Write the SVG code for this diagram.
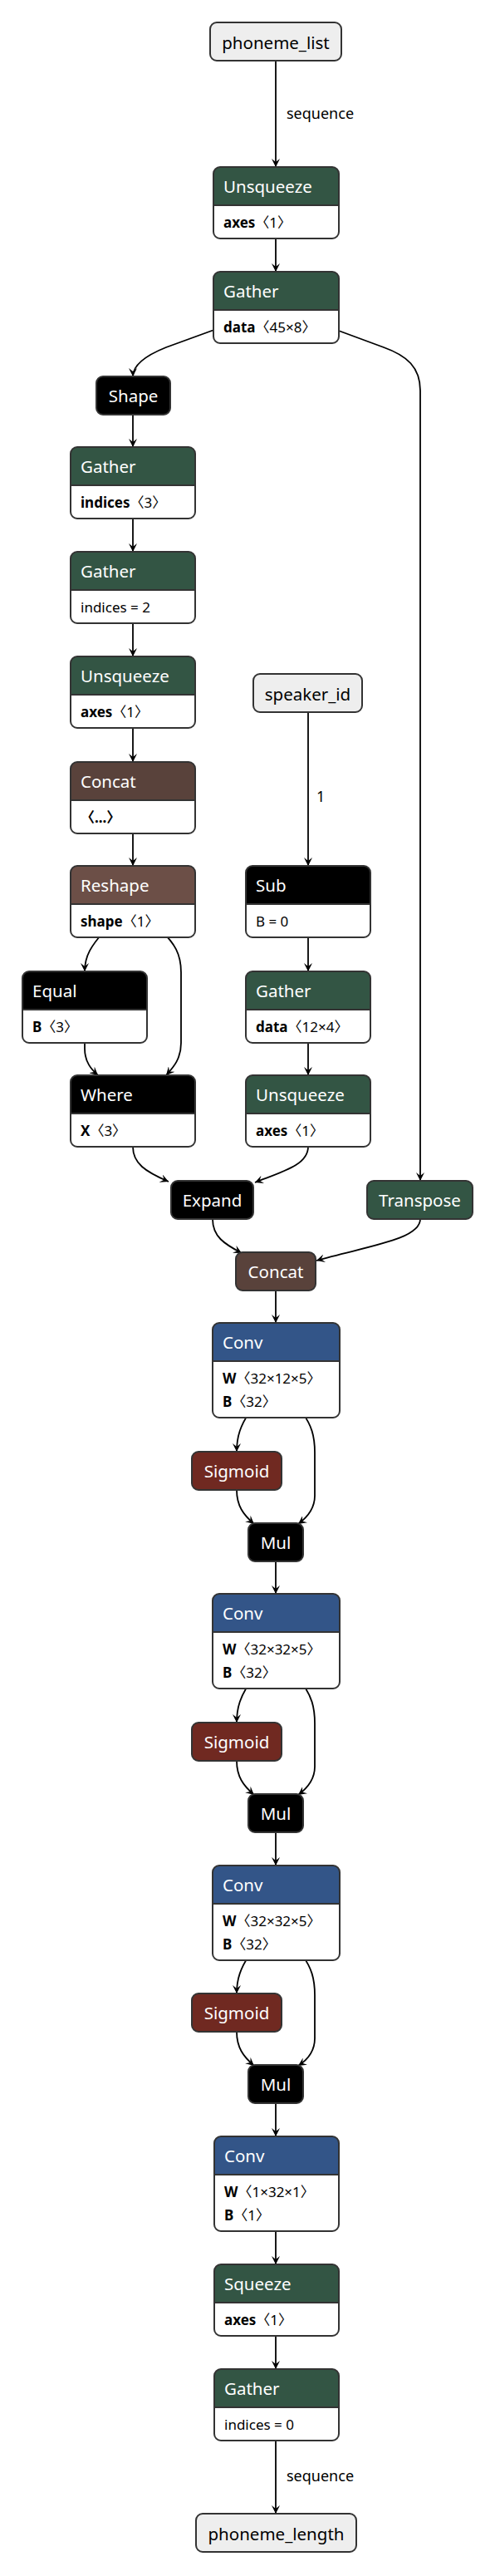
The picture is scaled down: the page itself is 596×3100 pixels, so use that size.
<svg xmlns="http://www.w3.org/2000/svg" width="596" height="3100" viewBox="0 0 596 3100">
<style>
.bx{stroke:#333;stroke-width:2}
.ol{fill:none;stroke:#333;stroke-width:2}
.sep{stroke:#333;stroke-width:2}
.wh{fill:#fff}
.in{fill:#eee}
.blk{fill:#000}
.grn{fill:#335544}
.blu{fill:#335588}
.ten{fill:#59423b}
.shp{fill:#6c4f47}
.act{fill:#702921}
text{font-family:"Noto Sans","Noto Sans CJK SC",sans-serif}
.ht{font-size:20.5px;fill:#fff}
.hc{font-size:20.5px;fill:#fff;text-anchor:middle}
.it{font-size:20.5px;fill:#000;text-anchor:middle}
.at{font-size:17px;fill:#000}
.b{font-weight:bold}
.el{font-size:18px;fill:#000}
.e{fill:none;stroke:#000;stroke-width:1.8;marker-end:url(#arr)}
</style>
<defs>
<marker id="arr" viewBox="0 0 10 10" refX="10" refY="5" markerWidth="10" markerHeight="10" markerUnits="userSpaceOnUse" orient="auto">
<path d="M0,0 L10,5 L0,10 L4,5 Z" fill="#000"/>
</marker>
</defs>
<g id="connectors">
<path class="e" d="M332,73 L332,201"/>
<text class="el" x="345" y="143">sequence</text>
<path class="e" d="M332,287 L332,327"/>
<path class="e" d="M332,370 L200,418 C175,428 160,440 160,453"/>
<path class="e" d="M332,370 L462,418 C490,428 506,442 506,470 L506,1421"/>
<path class="e" d="M160,499 L160,538"/>
<path class="e" d="M160,624 L160,664"/>
<path class="e" d="M160,750 L160,790"/>
<path class="e" d="M160,876 L160,917"/>
<path class="e" d="M160,1003 L160,1042"/>
<path class="e" d="M371,857 L371,1042"/>
<text class="el" x="381" y="965">1</text>
<path class="e" d="M371,1128 L371,1169"/>
<path class="e" d="M371,1255 L371,1294"/>
<path class="e" d="M126,1120 C110,1138 102,1150 102,1169"/>
<path class="e" d="M194,1120 C210,1135 218,1148 218,1170 L218,1255 C218,1275 208,1285 200,1294"/>
<path class="e" d="M102,1255 L102,1262 C102,1278 110,1287 118,1294"/>
<path class="e" d="M160,1380 C160,1400 175,1410 203,1422"/>
<path class="e" d="M371,1380 C371,1402 340,1410 307,1423"/>
<path class="e" d="M256,1467 C256,1488 270,1497 291,1508"/>
<path class="e" d="M506,1467 C506,1492 440,1500 381,1517"/>
<path class="e" d="M332,1553 L332,1592"/>
<path class="e" d="M300,1700 C290,1715 285,1728 285,1747"/>
<path class="e" d="M364,1700 C375,1715 379,1728 379,1748 L379,1800 C379,1816 370,1826 359,1834"/>
<path class="e" d="M285,1793 C285,1812 293,1823 306,1834"/>
<path class="e" d="M332,1879 L332,1918"/>
<path class="e" d="M300,2026 C290,2041 285,2054 285,2073"/>
<path class="e" d="M364,2026 C375,2041 379,2054 379,2074 L379,2126 C379,2142 370,2152 359,2160"/>
<path class="e" d="M285,2119 C285,2138 293,2149 306,2160"/>
<path class="e" d="M332,2205 L332,2245"/>
<path class="e" d="M300,2353 C290,2368 285,2381 285,2399"/>
<path class="e" d="M364,2353 C375,2368 379,2381 379,2401 L379,2453 C379,2469 370,2479 359,2486"/>
<path class="e" d="M285,2445 C285,2464 293,2475 306,2486"/>
<path class="e" d="M332,2531 L332,2571"/>
<path class="e" d="M332,2685 L332,2725"/>
<path class="e" d="M332,2811 L332,2851"/>
<path class="e" d="M332,2937 L332,3025"/>
<text class="el" x="345" y="2986">sequence</text>
</g>

<g id="phoneme_list">
<rect class="bx in" x="253" y="27" width="158" height="46" rx="8"/>
<text class="it" x="332" y="59">phoneme_list</text>
</g>

<g id="unsqueeze1">
<rect class="wh" x="257" y="201" width="151" height="86" rx="8"/>
<path class="grn" d="M257,247 V209 A8,8 0 0 1 265,201 H400 A8,8 0 0 1 408,209 V247 Z"/>
<line class="sep" x1="257" y1="247" x2="408" y2="247"/>
<rect class="ol" x="257" y="201" width="151" height="86" rx="8"/>
<text class="ht" x="269" y="232">Unsqueeze</text>
<text class="at" x="269" y="274"><tspan class="b">axes</tspan>〈1〉</text>
</g>

<g id="gather1">
<rect class="wh" x="257" y="327" width="151" height="86" rx="8"/>
<path class="grn" d="M257,373 V335 A8,8 0 0 1 265,327 H400 A8,8 0 0 1 408,335 V373 Z"/>
<line class="sep" x1="257" y1="373" x2="408" y2="373"/>
<rect class="ol" x="257" y="327" width="151" height="86" rx="8"/>
<text class="ht" x="269" y="358">Gather</text>
<text class="at" x="269" y="400"><tspan class="b">data</tspan>〈45×8〉</text>
</g>

<g id="shape">
<rect class="bx blk" x="116" y="453" width="89" height="46" rx="8"/>
<text class="hc" x="160.5" y="484">Shape</text>
</g>

<g id="gather2">
<rect class="wh" x="85" y="538" width="150" height="86" rx="8"/>
<path class="grn" d="M85,584 V546 A8,8 0 0 1 93,538 H227 A8,8 0 0 1 235,546 V584 Z"/>
<line class="sep" x1="85" y1="584" x2="235" y2="584"/>
<rect class="ol" x="85" y="538" width="150" height="86" rx="8"/>
<text class="ht" x="97" y="569">Gather</text>
<text class="at" x="97" y="611"><tspan class="b">indices</tspan>〈3〉</text>
</g>

<g id="gather3">
<rect class="wh" x="85" y="664" width="150" height="86" rx="8"/>
<path class="grn" d="M85,710 V672 A8,8 0 0 1 93,664 H227 A8,8 0 0 1 235,672 V710 Z"/>
<line class="sep" x1="85" y1="710" x2="235" y2="710"/>
<rect class="ol" x="85" y="664" width="150" height="86" rx="8"/>
<text class="ht" x="97" y="695">Gather</text>
<text class="at" x="97" y="737">indices = 2</text>
</g>

<g id="unsqueeze2">
<rect class="wh" x="85" y="790" width="150" height="86" rx="8"/>
<path class="grn" d="M85,836 V798 A8,8 0 0 1 93,790 H227 A8,8 0 0 1 235,798 V836 Z"/>
<line class="sep" x1="85" y1="836" x2="235" y2="836"/>
<rect class="ol" x="85" y="790" width="150" height="86" rx="8"/>
<text class="ht" x="97" y="821">Unsqueeze</text>
<text class="at" x="97" y="863"><tspan class="b">axes</tspan>〈1〉</text>
</g>

<g id="speaker_id">
<rect class="bx in" x="305" y="811" width="131" height="46" rx="8"/>
<text class="it" x="370.5" y="843">speaker_id</text>
</g>

<g id="concat1">
<rect class="wh" x="85" y="917" width="150" height="86" rx="8"/>
<path class="ten" d="M85,963 V925 A8,8 0 0 1 93,917 H227 A8,8 0 0 1 235,925 V963 Z"/>
<line class="sep" x1="85" y1="963" x2="235" y2="963"/>
<rect class="ol" x="85" y="917" width="150" height="86" rx="8"/>
<text class="ht" x="97" y="948">Concat</text>
<text class="at b" x="97" y="990">〈...〉</text>
</g>

<g id="reshape">
<rect class="wh" x="85" y="1042" width="150" height="86" rx="8"/>
<path class="shp" d="M85,1088 V1050 A8,8 0 0 1 93,1042 H227 A8,8 0 0 1 235,1050 V1088 Z"/>
<line class="sep" x1="85" y1="1088" x2="235" y2="1088"/>
<rect class="ol" x="85" y="1042" width="150" height="86" rx="8"/>
<text class="ht" x="97" y="1073">Reshape</text>
<text class="at" x="97" y="1115"><tspan class="b">shape</tspan>〈1〉</text>
</g>

<g id="sub">
<rect class="wh" x="296" y="1042" width="150" height="86" rx="8"/>
<path class="blk" d="M296,1088 V1050 A8,8 0 0 1 304,1042 H438 A8,8 0 0 1 446,1050 V1088 Z"/>
<line class="sep" x1="296" y1="1088" x2="446" y2="1088"/>
<rect class="ol" x="296" y="1042" width="150" height="86" rx="8"/>
<text class="ht" x="308" y="1073">Sub</text>
<text class="at" x="308" y="1115">B = 0</text>
</g>

<g id="equal">
<rect class="wh" x="27" y="1169" width="150" height="86" rx="8"/>
<path class="blk" d="M27,1215 V1177 A8,8 0 0 1 35,1169 H169 A8,8 0 0 1 177,1177 V1215 Z"/>
<line class="sep" x1="27" y1="1215" x2="177" y2="1215"/>
<rect class="ol" x="27" y="1169" width="150" height="86" rx="8"/>
<text class="ht" x="39" y="1200">Equal</text>
<text class="at" x="39" y="1242"><tspan class="b">B</tspan>〈3〉</text>
</g>

<g id="gather4">
<rect class="wh" x="296" y="1169" width="150" height="86" rx="8"/>
<path class="grn" d="M296,1215 V1177 A8,8 0 0 1 304,1169 H438 A8,8 0 0 1 446,1177 V1215 Z"/>
<line class="sep" x1="296" y1="1215" x2="446" y2="1215"/>
<rect class="ol" x="296" y="1169" width="150" height="86" rx="8"/>
<text class="ht" x="308" y="1200">Gather</text>
<text class="at" x="308" y="1242"><tspan class="b">data</tspan>〈12×4〉</text>
</g>

<g id="where">
<rect class="wh" x="85" y="1294" width="150" height="86" rx="8"/>
<path class="blk" d="M85,1340 V1302 A8,8 0 0 1 93,1294 H227 A8,8 0 0 1 235,1302 V1340 Z"/>
<line class="sep" x1="85" y1="1340" x2="235" y2="1340"/>
<rect class="ol" x="85" y="1294" width="150" height="86" rx="8"/>
<text class="ht" x="97" y="1325">Where</text>
<text class="at" x="97" y="1367"><tspan class="b">X</tspan>〈3〉</text>
</g>

<g id="unsqueeze3">
<rect class="wh" x="296" y="1294" width="150" height="86" rx="8"/>
<path class="grn" d="M296,1340 V1302 A8,8 0 0 1 304,1294 H438 A8,8 0 0 1 446,1302 V1340 Z"/>
<line class="sep" x1="296" y1="1340" x2="446" y2="1340"/>
<rect class="ol" x="296" y="1294" width="150" height="86" rx="8"/>
<text class="ht" x="308" y="1325">Unsqueeze</text>
<text class="at" x="308" y="1367"><tspan class="b">axes</tspan>〈1〉</text>
</g>

<g id="expand">
<rect class="bx blk" x="206" y="1421" width="99" height="46" rx="8"/>
<text class="hc" x="255.5" y="1452">Expand</text>
</g>

<g id="transpose">
<rect class="bx grn" x="442" y="1421" width="127" height="46" rx="8"/>
<text class="hc" x="505.5" y="1452">Transpose</text>
</g>

<g id="concat2">
<rect class="bx ten" x="284" y="1507" width="96" height="46" rx="8"/>
<text class="hc" x="332" y="1538">Concat</text>
</g>

<g id="conv1">
<rect class="wh" x="256" y="1592" width="153" height="114" rx="8"/>
<path class="blu" d="M256,1638 V1600 A8,8 0 0 1 264,1592 H401 A8,8 0 0 1 409,1600 V1638 Z"/>
<line class="sep" x1="256" y1="1638" x2="409" y2="1638"/>
<rect class="ol" x="256" y="1592" width="153" height="114" rx="8"/>
<text class="ht" x="268" y="1623">Conv</text>
<text class="at" x="268" y="1665"><tspan class="b">W</tspan>〈32×12×5〉</text>
<text class="at" x="268" y="1693"><tspan class="b">B</tspan>〈32〉</text>
</g>

<g id="sigmoid1">
<rect class="bx act" x="231" y="1747" width="108" height="46" rx="8"/>
<text class="hc" x="285" y="1778">Sigmoid</text>
</g>

<g id="mul1">
<rect class="bx blk" x="299" y="1833" width="66" height="46" rx="8"/>
<text class="hc" x="332" y="1864">Mul</text>
</g>

<g id="conv2">
<rect class="wh" x="256" y="1918" width="153" height="114" rx="8"/>
<path class="blu" d="M256,1964 V1926 A8,8 0 0 1 264,1918 H401 A8,8 0 0 1 409,1926 V1964 Z"/>
<line class="sep" x1="256" y1="1964" x2="409" y2="1964"/>
<rect class="ol" x="256" y="1918" width="153" height="114" rx="8"/>
<text class="ht" x="268" y="1949">Conv</text>
<text class="at" x="268" y="1991"><tspan class="b">W</tspan>〈32×32×5〉</text>
<text class="at" x="268" y="2019"><tspan class="b">B</tspan>〈32〉</text>
</g>

<g id="sigmoid2">
<rect class="bx act" x="231" y="2073" width="108" height="46" rx="8"/>
<text class="hc" x="285" y="2104">Sigmoid</text>
</g>

<g id="mul2">
<rect class="bx blk" x="299" y="2159" width="66" height="46" rx="8"/>
<text class="hc" x="332" y="2190">Mul</text>
</g>

<g id="conv3">
<rect class="wh" x="256" y="2245" width="153" height="114" rx="8"/>
<path class="blu" d="M256,2291 V2253 A8,8 0 0 1 264,2245 H401 A8,8 0 0 1 409,2253 V2291 Z"/>
<line class="sep" x1="256" y1="2291" x2="409" y2="2291"/>
<rect class="ol" x="256" y="2245" width="153" height="114" rx="8"/>
<text class="ht" x="268" y="2276">Conv</text>
<text class="at" x="268" y="2318"><tspan class="b">W</tspan>〈32×32×5〉</text>
<text class="at" x="268" y="2346"><tspan class="b">B</tspan>〈32〉</text>
</g>

<g id="sigmoid3">
<rect class="bx act" x="231" y="2399" width="108" height="46" rx="8"/>
<text class="hc" x="285" y="2430">Sigmoid</text>
</g>

<g id="mul3">
<rect class="bx blk" x="299" y="2485" width="66" height="46" rx="8"/>
<text class="hc" x="332" y="2516">Mul</text>
</g>

<g id="conv4">
<rect class="wh" x="258" y="2571" width="150" height="114" rx="8"/>
<path class="blu" d="M258,2617 V2579 A8,8 0 0 1 266,2571 H400 A8,8 0 0 1 408,2579 V2617 Z"/>
<line class="sep" x1="258" y1="2617" x2="408" y2="2617"/>
<rect class="ol" x="258" y="2571" width="150" height="114" rx="8"/>
<text class="ht" x="270" y="2602">Conv</text>
<text class="at" x="270" y="2644"><tspan class="b">W</tspan>〈1×32×1〉</text>
<text class="at" x="270" y="2672"><tspan class="b">B</tspan>〈1〉</text>
</g>

<g id="squeeze">
<rect class="wh" x="258" y="2725" width="150" height="86" rx="8"/>
<path class="grn" d="M258,2771 V2733 A8,8 0 0 1 266,2725 H400 A8,8 0 0 1 408,2733 V2771 Z"/>
<line class="sep" x1="258" y1="2771" x2="408" y2="2771"/>
<rect class="ol" x="258" y="2725" width="150" height="86" rx="8"/>
<text class="ht" x="270" y="2756">Squeeze</text>
<text class="at" x="270" y="2798"><tspan class="b">axes</tspan>〈1〉</text>
</g>

<g id="gather5">
<rect class="wh" x="258" y="2851" width="150" height="86" rx="8"/>
<path class="grn" d="M258,2897 V2859 A8,8 0 0 1 266,2851 H400 A8,8 0 0 1 408,2859 V2897 Z"/>
<line class="sep" x1="258" y1="2897" x2="408" y2="2897"/>
<rect class="ol" x="258" y="2851" width="150" height="86" rx="8"/>
<text class="ht" x="270" y="2882">Gather</text>
<text class="at" x="270" y="2924">indices = 0</text>
</g>

<g id="phoneme_length">
<rect class="bx in" x="236" y="3025" width="193" height="46" rx="8"/>
<text class="it" x="332.5" y="3057">phoneme_length</text>
</g>
</svg>
